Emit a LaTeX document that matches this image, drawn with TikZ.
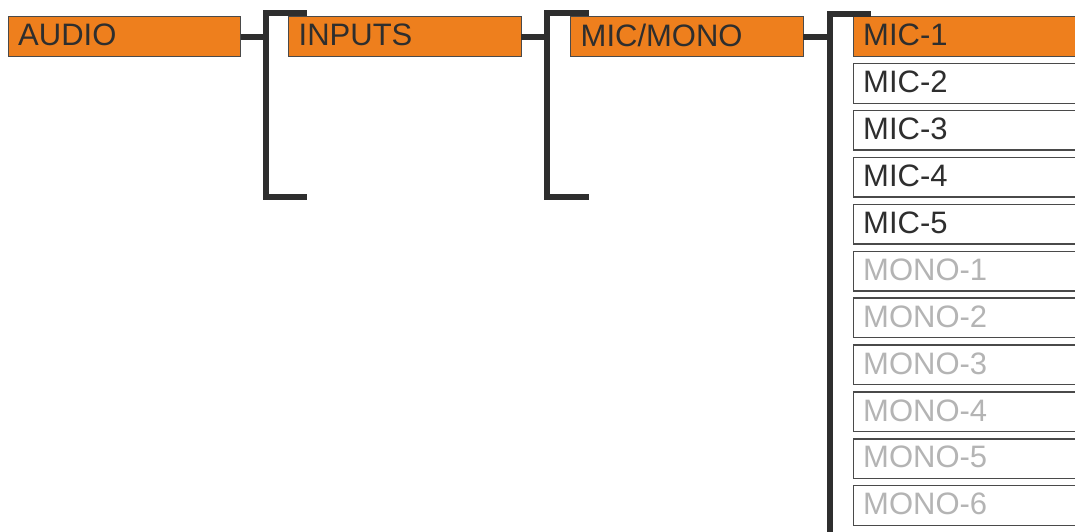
\documentclass[tikz,border=0pt]{standalone}
\usepackage{fontspec}
\setmainfont{Liberation Sans}
\usetikzlibrary{positioning}

\definecolor{menuorange}{HTML}{EE7F1D}
\definecolor{menutext}{HTML}{2E2E2E}
\definecolor{menuedge}{HTML}{4A4A4A}
\definecolor{menugray}{HTML}{B4B4B4}

\begin{document}
\begin{tikzpicture}[
        x=1pt, y=1pt,
        node distance=7.3pt and 48.5pt,
        menubox/.style={rectangle, draw=menuedge, line width=1.4pt, outer sep=0pt, text=menutext, minimum height=39.6pt, text width=212.5pt, text depth=3pt, inner xsep=10pt, inner ysep=0pt, align=left, font=\fontsize{31}{36}\selectfont},
        selbox/.style={menubox, fill=menuorange},
        offbox/.style={menubox, fill=white},
        dimbox/.style={menubox, fill=white, text=menugray},
        bracket/.style={draw=menutext, line width=6pt},
    ]
        \useasboundingbox (0,0) rectangle (1075,-531);

        % Menu path
        \node[selbox, anchor=north west] (audio) at (8.2,-16.7) {AUDIO};
        \node[selbox, right=48pt of audio] (inputs) {INPUTS};
        \node[selbox, right=49.5pt of inputs] (micmono) {MIC/MONO};

        % Channel list
        \node[selbox, right=50pt of micmono, text width=240pt] (mic1) {MIC-1};
        \node[offbox, below=of mic1, text width=240pt] (mic2) {MIC-2};
        \node[offbox, below=of mic2, text width=240pt] (mic3) {MIC-3};
        \node[offbox, below=of mic3, text width=240pt] (mic4) {MIC-4};
        \node[offbox, below=of mic4, text width=240pt] (mic5) {MIC-5};
        \node[dimbox, below=of mic5, text width=240pt] (mono1) {MONO-1};
        \node[dimbox, below=of mono1, text width=240pt] (mono2) {MONO-2};
        \node[dimbox, below=of mono2, text width=240pt] (mono3) {MONO-3};
        \node[dimbox, below=of mono3, text width=240pt] (mono4) {MONO-4};
        \node[dimbox, below=of mono4, text width=240pt] (mono5) {MONO-5};
        \node[dimbox, below=of mono5, text width=240pt] (mono6) {MONO-6};

        % Junctions on the brackets
        \coordinate (j1) at ([xshift=-23pt]inputs.west);
        \coordinate (j2) at ([xshift=-24pt]micmono.west);
        \coordinate (j3) at ([xshift=-23.5pt]mic1.west);

        % Stems
        \draw[bracket] (audio) -- (j1);
        \draw[bracket] (inputs) -- (j2);
        \draw[bracket] (micmono) -- (j3);

        % Brackets
        \draw[bracket] ([xshift=41pt, yshift=23.5pt]j1) -| ([yshift=-160.5pt]j1) -- ++(41pt,0);
        \draw[bracket] ([xshift=42pt, yshift=23.5pt]j2) -| ([yshift=-160.5pt]j2) -- ++(42pt,0);
        \draw[bracket] ([xshift=41pt, yshift=22.5pt]j3) -| ([yshift=-20pt]j3 |- mono6.south);
    \end{tikzpicture}
\end{document}
